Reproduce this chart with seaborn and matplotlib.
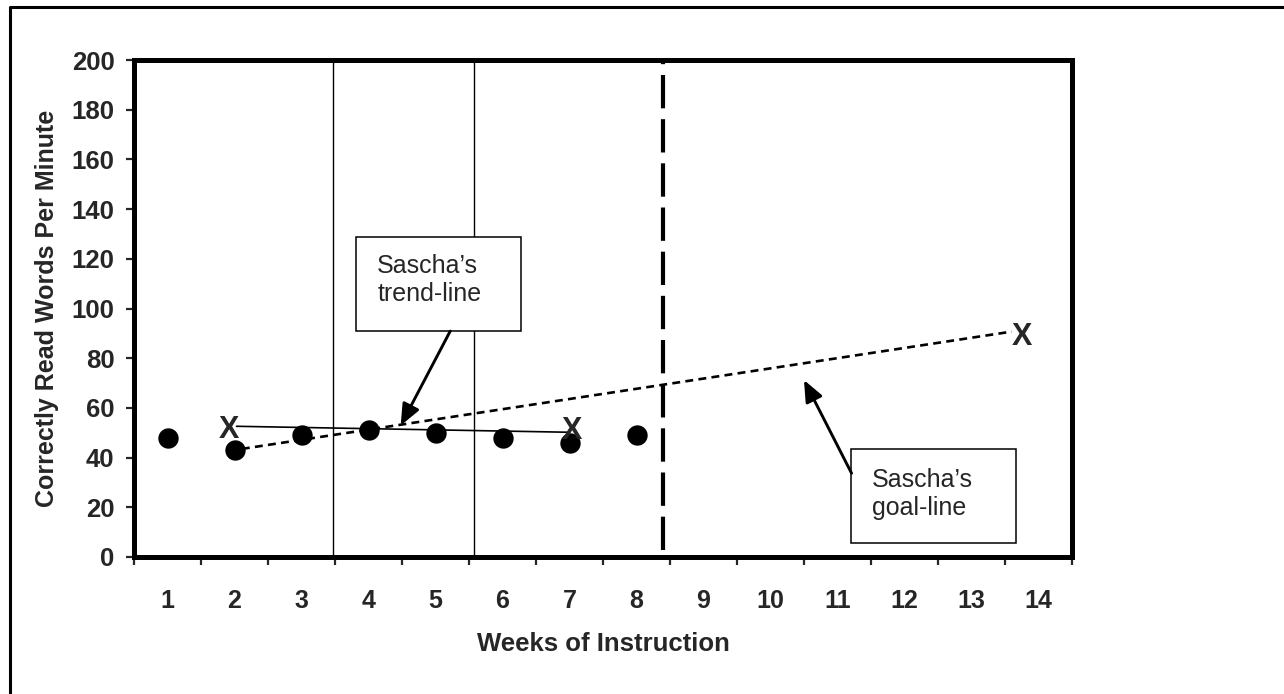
import matplotlib
matplotlib.use("Agg")
import matplotlib.pyplot as plt
import seaborn as sns
from matplotlib.patches import Rectangle
from matplotlib.lines import Line2D

# weekly probes (correctly read words per minute)
weeks = [1, 2, 3, 4, 5, 6, 7, 8]
wpm = [48, 43, 49, 51, 50, 48, 46, 49]

# trend-line through the data, ends marked with X
trend_x = [2.03, 6.99]
trend_y = [52.6, 50.2]
trend_marks_x = [1.91, 7.03]
trend_marks_y = [51.0, 50.7]

# goal-line from baseline to the goal X
goal_x = [2.11, 13.6]
goal_y = [43.5, 90.7]
goal_mark_x = [13.75]
goal_mark_y = [88.7]

phase_lines = [3.47, 5.58]
decision_line = 8.39

week_labels = [str(w) for w in range(1, 15)]
y_ticks = list(range(0, 201, 20))

sns.set_style("white")
plt.rcParams['font.family'] = ['Liberation Sans', 'DejaVu Sans']

fig = plt.figure(figsize=(12.84, 6.94), dpi=100)
ax = fig.add_axes([134/1284, 137/694, 938/1284, 497/694])

# phase change lines
for px in phase_lines:
    ax.axvline(px, color="black", lw=1.0, zorder=1)
ax.plot([decision_line, decision_line], [3, 199], color="black", lw=3,
        linestyle=(0, (8, 2.6)), zorder=1)

# goal line (dashed)
ax.plot(goal_x, goal_y, color="black", lw=1.9, linestyle=(0, (3.0, 2.0)), zorder=2)

# trend line
sns.lineplot(x=trend_x, y=trend_y, color="black", lw=1.2, ax=ax, zorder=3)

# data points
sns.scatterplot(x=weeks, y=wpm, s=215, color="black", linewidth=0, ax=ax, zorder=5)

for mx, my in zip(trend_marks_x + goal_mark_x, trend_marks_y + goal_mark_y):
    ax.text(mx, my, "X", fontsize=22, fontweight="bold", ha="center", va="center", zorder=6)

# annotation boxes
ax.add_patch(Rectangle((3.81, 90.9), 2.47, 37.9, facecolor="white", edgecolor="black",
                       lw=1.1, zorder=7))
ax.text(4.13, 111.5, "Sascha\u2019s\ntrend-line", fontsize=18, ha="left", va="center", zorder=8)
ax.add_patch(Rectangle((11.2, 5.5), 2.47, 37.8, facecolor="white", edgecolor="black",
                       lw=1.1, zorder=7))
ax.text(11.51, 25.5, "Sascha\u2019s\ngoal-line", fontsize=18, ha="left", va="center", zorder=8)

arrow = dict(arrowstyle="-|>,head_length=1.3,head_width=0.55", lw=2.1, color="black",
             shrinkA=0, shrinkB=0, mutation_scale=10)
ax.annotate("", xy=(4.48, 52.9), xytext=(5.22, 90.9), arrowprops=arrow, zorder=8)
ax.annotate("", xy=(10.5, 71.2), xytext=(11.21, 33.7), arrowprops=arrow, zorder=8)

# axes
ax.set_xlim(0.5, 14.5)
ax.set_ylim(0, 200)
ax.set_xticks(range(1, 15))
ax.set_xticklabels(week_labels)
ax.set_xticks([i + 0.5 for i in range(0, 15)], minor=True)
ax.set_yticks(y_ticks)
ax.tick_params(axis="x", which="major", length=0, pad=23, labelsize=18)
ax.tick_params(axis="x", which="minor", length=6, width=1.6, direction="out", bottom=True)
ax.tick_params(axis="y", length=6, width=1.6, direction="out", left=True, pad=8, labelsize=18.5)
for lab in ax.get_xticklabels() + ax.get_yticklabels():
    lab.set_fontweight("bold")
for sp in ax.spines.values():
    sp.set_linewidth(3.6)
    sp.set_color("black")
    sp.set_visible(True)

ax.set_xlabel("Weeks of Instruction", fontsize=18.5, fontweight="bold", labelpad=14)
ax.set_ylabel("Correctly Read Words Per Minute", fontsize=18, fontweight="bold", labelpad=9)

# outer frame (cropped at right and bottom)
fig.add_artist(Line2D([10/1284, 10/1284, 1.0], [0, 1 - 7/694, 1 - 7/694],
                      transform=fig.transFigure, color="black", lw=2.2))

fig.savefig("out.png", dpi=100)
